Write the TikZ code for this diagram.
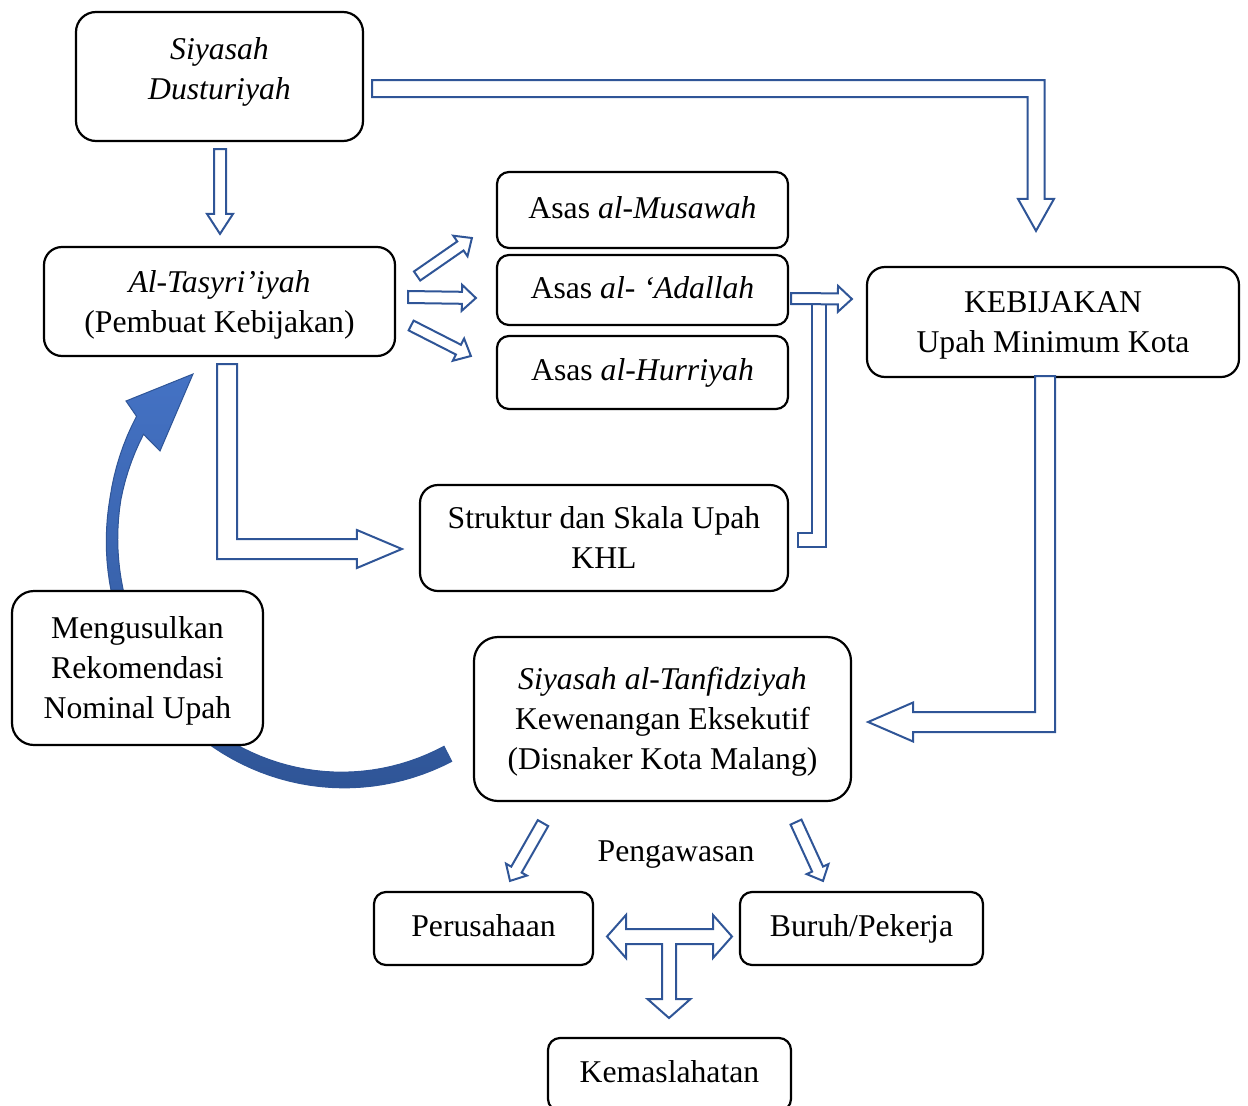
\documentclass[tikz,border=0pt]{standalone}
\usepackage{fontspec}
\setmainfont{Liberation Serif}
\usetikzlibrary{calc}

\definecolor{arrowblue}{HTML}{2F5597}
\definecolor{arclight}{HTML}{4472C4}
\newcommand{\diagfont}{\fontsize{31.7}{40}\selectfont}
% struts that fix the first line height and the last line depth
\newcommand{\stA}{\rule{0pt}{23pt}}
\newcommand{\stM}{\rule{0pt}{28.5pt}}
\newcommand{\stD}{\rule[-7pt]{0pt}{0pt}}

\tikzset{
  box/.style={draw, line width=2.2pt, rounded corners=12pt, fill=white, align=center, inner sep=0pt, font=\diagfont},
  arrowline/.style={draw=arrowblue, line width=2pt, fill=white},
  % straight block arrow: shaft half width, head half width, head length
  blk/.style n args={3}{arrowline, to path={
    ($(\tikztostart)!#1!90:(\tikztotarget)$)
    -- ($(\tikztotarget)!#3!(\tikztostart)!#1!-90:(\tikztostart)$)
    -- ($(\tikztotarget)!#3!(\tikztostart)!#2!-90:(\tikztostart)$)
    -- (\tikztotarget)
    -- ($(\tikztotarget)!#3!(\tikztostart)!#2!90:(\tikztostart)$)
    -- ($(\tikztotarget)!#3!(\tikztostart)!#1!90:(\tikztostart)$)
    -- ($(\tikztostart)!#1!-90:(\tikztotarget)$) -- cycle}},
  % bent block arrow, first across then down/up
  blkhv/.style n args={3}{arrowline, to path={
    let \p1=(\tikztostart), \p2=(\tikztotarget), \n1={sign(\x2-\x1)}, \n2={sign(\y2-\y1)} in
    (\x1,{\y1-\n2*#1}) -| ({\x2+\n1*#1},{\y2-\n2*#3}) -- ({\x2+\n1*#2},{\y2-\n2*#3}) -- (\x2,\y2)
    -- ({\x2-\n1*#2},{\y2-\n2*#3}) -- ({\x2-\n1*#1},{\y2-\n2*#3}) |- (\x1,{\y1+\n2*#1}) -- cycle}},
  % bent block arrow, first down then across
  blkvh/.style n args={3}{arrowline, to path={
    let \p1=(\tikztostart), \p2=(\tikztotarget), \n1={sign(\x2-\x1)}, \n2={sign(\y2-\y1)} in
    ({\x1-\n1*#1},\y1) |- ({\x2-\n1*#3},{\y2+\n2*#1}) -- ({\x2-\n1*#3},{\y2+\n2*#2}) -- (\x2,\y2)
    -- ({\x2-\n1*#3},{\y2-\n2*#2}) -- ({\x2-\n1*#3},{\y2-\n2*#1}) -| ({\x1+\n1*#1},\y1) -- cycle}}
}

\begin{document}
\begin{tikzpicture}[x=1pt, y=-1pt, declare function={arcw(\t)=8.5-3*(\t-62)/128+2.5*max(0,(\t-190)/21);}]
    \useasboundingbox (0,0) rectangle (1248,1106);

    % curved arrow behind the boxes
    \coordinate (arcc) at (343,540);
    \shadedraw[top color=arclight, bottom color=arrowblue, draw=arrowblue, line width=1pt, shift={(arcc)}]
      plot[domain=63:210, samples=60] ({(231+arcw(\x))*cos(\x)}, {(240+arcw(\x))*sin(\x)})
      -- (-217,-139) -- (-150,-166) -- (-183,-89)
      -- plot[domain=207:63, samples=60] ({(231-arcw(\x))*cos(\x)}, {(240-arcw(\x))*sin(\x)})
      -- cycle;

    % boxes
    \node[box, rounded corners=20pt, minimum width=287pt, minimum height=129pt] (dust) at (219.5,76.5) {};
    \node[font=\diagfont\itshape, align=center, inner sep=0pt] (dusttxt) at ([yshift=5pt]dust.center) {Siyasah\\Dusturiyah};
    \node[box, rounded corners=18pt, minimum width=351pt, minimum height=109pt] (tasyri) at (219.5,301.5) {\stM\textit{Al-Tasyri’iyah}\\(Pembuat Kebijakan)\stD};
    \node[box, minimum width=291pt, minimum height=76pt] (musawah) at (642.5,210) {\stA Asas \textit{al-Musawah}\stD};
    \node[box, minimum width=291pt, minimum height=70pt] (adalah) at (642.5,290) {\stA Asas \textit{al- ‘Adallah}\stD};
    \node[box, minimum width=291pt, minimum height=73pt] (hurriyah) at (642.5,372.5) {\stA Asas \textit{al-Hurriyah}\stD};
    \node[box, rounded corners=18pt, minimum width=372pt, minimum height=110pt] (kebijakan) at (1053,322) {\stM KEBIJAKAN\\Upah Minimum Kota\stD};
    \node[box, rounded corners=18pt, minimum width=368pt, minimum height=106pt] (struktur) at (604,538) {\stM Struktur dan Skala Upah\\KHL\stD};
    \node[box, rounded corners=22pt, minimum width=251pt, minimum height=154pt] (usul) at (137.5,668) {\stM Mengusulkan\\Rekomendasi\\Nominal Upah\stD};
    \node[box, rounded corners=24pt, minimum width=377pt, minimum height=164pt] (tanfidz) at (662.5,719) {\stM\textit{Siyasah al-Tanfidziyah}\\Kewenangan Eksekutif\\(Disnaker Kota Malang)\stD};
    \node[box, minimum width=219pt, minimum height=73pt] (peru) at (483.5,928.5) {\stA Perusahaan\stD};
    \node[box, minimum width=243pt, minimum height=73pt] (buruh) at (861.5,928.5) {\stA Buruh/Pekerja\stD};
    \node[box, minimum width=243pt, minimum height=73pt] (maslahat) at (669.5,1074.5) {\stA Kemaslahatan\stD};
    \node[font=\diagfont] (awas) at (676,854.5) {Pengawasan};

    % arrow ends
    \coordinate (a1) at ($(dust.east)+(8,12)$);
    \coordinate (a2) at ($(kebijakan.north)+(-17,-35)$);
    \coordinate (b1) at ($(dust.south)+(0.5,7)$);
    \coordinate (b2) at ($(tasyri.north)+(0.5,-12)$);
    \coordinate (c1s) at ($(tasyri.east)+(21,-25.5)$);
    \coordinate (c2s) at ($(tasyri.east)+(12,-4.5)$);
    \coordinate (c3s) at ($(tasyri.east)+(15,24)$);
    \coordinate (c1t) at ($(musawah.west)+(-24,28)$);
    \coordinate (c2t) at ($(adalah.west)+(-20,8)$);
    \coordinate (c3t) at ($(hurriyah.west)+(-25,-16.5)$);
    \coordinate (d1) at ($(adalah.east)+(2,8.5)$);
    \coordinate (d2) at ($(kebijakan.west)+(-14,-23)$);
    \coordinate (e1) at ($(struktur.east)+(9,1.5)$);
    \coordinate (e2) at ($(adalah.east)+(29.5,13)$);
    \coordinate (f1) at ($(tasyri.south)+(7.5,7)$);
    \coordinate (f2) at ($(struktur.west)+(-17,11)$);
    \coordinate (g1) at ($(kebijakan.south)+(-8,-2)$);
    \coordinate (g2) at ($(tanfidz.east)+(16,3)$);
    \coordinate (i1) at ($(tanfidz.south)+(-119.5,21)$);
    \coordinate (i2) at ($(peru.north)+(26.5,-10)$);
    \coordinate (j1) at ($(tanfidz.south)+(133.5,20)$);
    \coordinate (j2) at ($(buruh.north)+(-38.5,-10)$);
    \coordinate (tee) at ($($(peru.east)!0.5!(buruh.west)$)+(2.5,8)$);

    % block arrows
    \draw[blkhv={8.5pt}{18pt}{32pt}] (a1) to (a2);
    \draw[blk={6pt}{13pt}{20pt}] (b1) to (b2);
    \draw[blk={5.5pt}{12.5pt}{14pt}] (c1s) to (c1t);
    \draw[blk={6pt}{13pt}{14pt}] (c2s) to (c2t);
    \draw[blk={5.5pt}{12.5pt}{14pt}] (c3s) to (c3t);
    \draw[blkhv={7pt}{7pt}{0pt}] (e1) to (e2);
    \draw[blk={5.5pt}{13pt}{14pt}] (d1) to (d2);
    \draw[blkvh={10pt}{19pt}{45pt}] (f1) to (f2);
    \draw[blkvh={10pt}{19.5pt}{45pt}] (g1) to (g2);
    \draw[blk={6pt}{12pt}{13pt}] (i1) to (i2);
    \draw[blk={6pt}{12pt}{13pt}] (j1) to (j2);

    % T arrow between Perusahaan, Buruh/Pekerja and Kemaslahatan
    \draw[arrowline, shift={(tee)}] (-62,0) -- (-43,-21.5) -- (-43,-7.5) -- (44,-7.5) -- (44,-21.5) -- (63,0)
      -- (44,21.5) -- (44,7.5) -- (7,7.5) -- (7,62.5) -- (21.5,62.5) -- (0,81.5) -- (-21.5,62.5)
      -- (-7,62.5) -- (-7,7.5) -- (-43,7.5) -- (-43,21.5) -- cycle;

\end{tikzpicture}
\end{document}
